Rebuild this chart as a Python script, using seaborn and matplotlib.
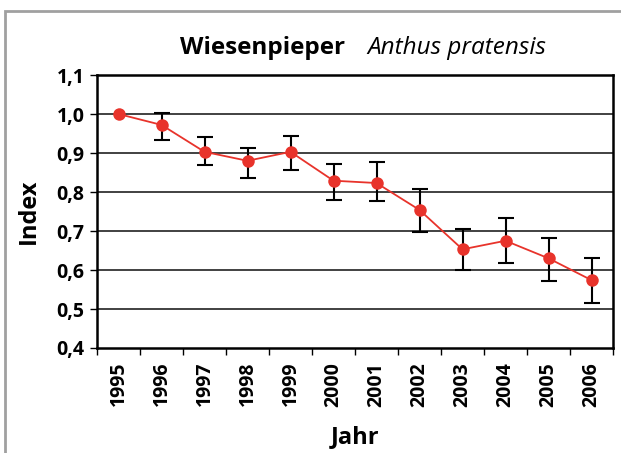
import matplotlib
matplotlib.use("Agg")
import matplotlib.pyplot as plt
import seaborn as sns
import numpy as np
import pandas as pd
from matplotlib.patches import Rectangle
from matplotlib.ticker import FixedLocator

years = ["1995", "1996", "1997", "1998", "1999", "2000", "2001", "2002", "2003", "2004", "2005", "2006"]
index_values = [1.000, 0.972, 0.903, 0.880, 0.903, 0.829, 0.823, 0.754, 0.653, 0.675, 0.630, 0.574]
upper = [1.000, 1.003, 0.940, 0.914, 0.944, 0.873, 0.877, 0.808, 0.705, 0.733, 0.682, 0.632]
lower = [1.000, 0.933, 0.870, 0.835, 0.856, 0.780, 0.776, 0.697, 0.599, 0.618, 0.572, 0.516]
y_ticks = [0.4, 0.5, 0.6, 0.7, 0.8, 0.9, 1.0, 1.1]

sns.set_theme(style="white")
plt.rcParams["font.family"] = ["Open Sans", "DejaVu Sans"]

W, H = 621, 453
fig = plt.figure(figsize=(W / 100, H / 100), dpi=100)
ax = fig.add_axes([97 / W, 1 - 348 / H, (613 - 97) / W, (348 - 75) / H])

pos = np.arange(len(years))
df = pd.DataFrame({"pos": pos, "Index": index_values})
vals = np.array(index_values)
yerr = np.vstack([vals - np.array(lower), np.array(upper) - vals])
mask = yerr.sum(axis=0) > 0
ax.errorbar(pos[mask], vals[mask], yerr=yerr[:, mask], fmt="none", ecolor="black",
            elinewidth=1.5, capsize=5.5, capthick=1.5, zorder=3)
red = "#e8332b"
sns.lineplot(data=df, x="pos", y="Index", ax=ax, color=red, linewidth=1.3,
             marker="o", markersize=9, markeredgewidth=0, zorder=4)

ax.set_xlim(-0.5, len(years) - 0.5)
ax.set_ylim(0.4, 1.1)
ax.yaxis.set_major_locator(FixedLocator(y_ticks))
ax.set_yticklabels([f"{t:.1f}".replace(".", ",") for t in y_ticks])
ax.set_xticks(pos)
ax.set_xticklabels(years, rotation=90)
ax.set_xticks(np.arange(-0.5, len(years), 1.0), minor=True)

for t in y_ticks[1:-1]:
    ax.axhline(t, color="#333333", linewidth=1.3, zorder=1)

for s in ax.spines.values():
    s.set_visible(True)
    s.set_color("black")
    s.set_linewidth(1.8)

ax.tick_params(axis="y", which="major", direction="out", length=5, width=1.0, color="black",
               labelsize=14, pad=4, left=True)
ax.tick_params(axis="x", which="major", length=0, labelsize=14, pad=10)
ax.tick_params(axis="x", which="minor", direction="out", length=5, width=1.0, color="black", bottom=True)
for lab in ax.get_xticklabels() + ax.get_yticklabels():
    lab.set_fontweight("bold")
    lab.set_color("black")

ax.set_xlabel("Jahr", fontsize=17, fontweight="bold", color="black")
ax.set_ylabel("Index", fontsize=17, fontweight="bold", color="black")
ax.xaxis.set_label_coords(0.5, (348 - 425) / 273)
ax.yaxis.set_label_coords((41 - 97) / 516, 0.5)
ax.grid(False)

fig.text(345 / W, 1 - 54 / H, "Wiesenpieper", ha="right", va="baseline",
         fontsize=17.5, fontweight="bold", color="black")
fig.text(367 / W, 1 - 54 / H, "Anthus pratensis", ha="left", va="baseline",
         fontsize=17.5, fontstyle="italic", color="black")

frame = Rectangle((4.5 / W, -0.1), 1.2, 1 - 10.5 / H + 0.1, transform=fig.transFigure,
                  fill=False, edgecolor="#a0a0a0", linewidth=2.0, clip_on=False)
fig.add_artist(frame)

fig.savefig("out.png", dpi=100)
